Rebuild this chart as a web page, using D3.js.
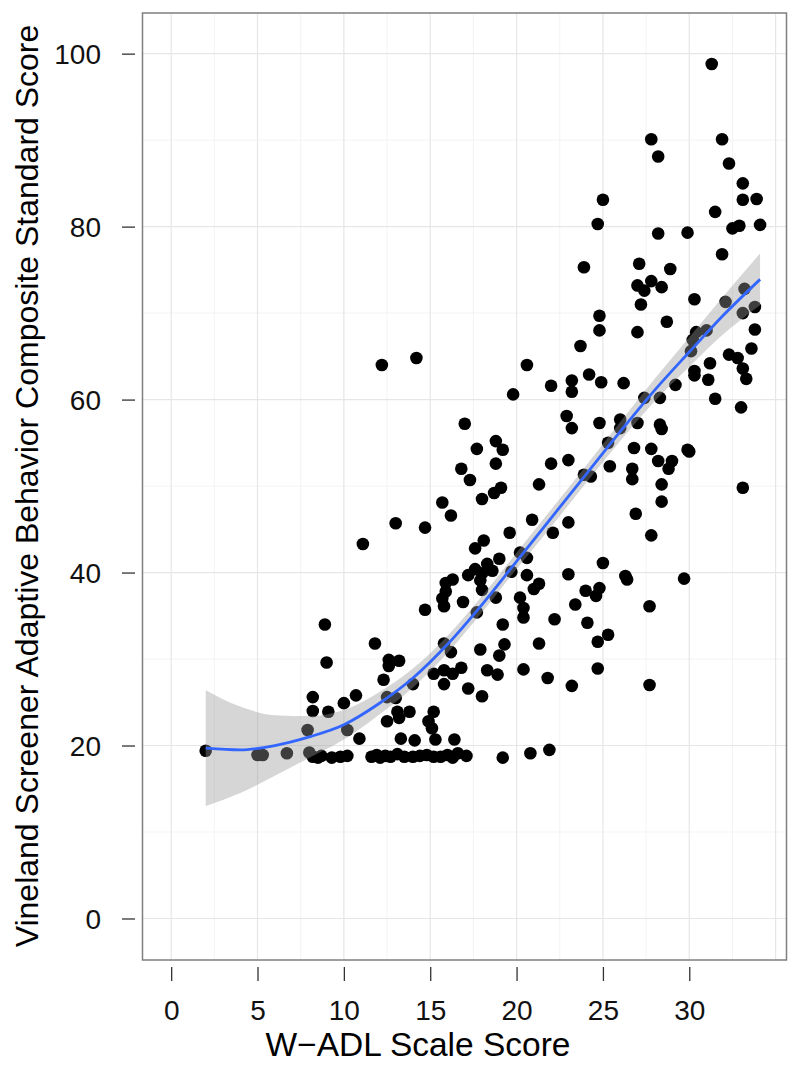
<!DOCTYPE html>
<html>
<head>
<meta charset="utf-8">
<script src="https://cdn.jsdelivr.net/npm/d3@7"></script>
<style>
  body { margin: 0; background: #fff; }
  text { font-family: "Liberation Sans", Arial, Helvetica, sans-serif; }
</style>
</head>
<body>
<script>
// W-ADL scale score (x) and Vineland composite (y)
var wadlScore = [
  // floor at ~19
  2.0,5.0,5.3,6.7,8.0,8.2,8.5,8.7,9.3,9.8,10.2,11.6,11.9,12.1,12.4,12.7,13.1,13.5,14.0,14.4,14.8,15.2,15.6,16.0,16.3,16.6,17.1,19.2,20.8,21.9,
  // low-middle
  15.7,18.0,16.2,13.0,14.7,11.1,18.1,17.6,18.3,19.0,17.6,17.2,18.0,18.6,16.3,15.9,17.9,18.0,15.9,15.7,15.8,16.9,18.8,14.7,17.7,8.9,11.8,15.8,16.2,17.9,19.0,9.0,12.6,13.2,12.6,15.2,15.8,16.3,16.8,15.8,12.3,14.0,17.2,18.0,18.3,18.9,12.5,13.0,10.7,10.0,8.2,8.2,9.1,13.1,13.8,15.2,13.2,12.5,14.9,15.1,15.3,7.9,10.2,10.9,13.3,14.1,16.4,
  // middle
  24.8,27.0,23.7,20.6,22.0,23.2,23.2,24.2,24.9,26.2,19.8,27.4,28.3,29.2,22.9,23.2,24.8,26.0,26.0,27.0,28.3,28.4,25.3,18.8,19.2,17.7,18.8,22.0,23.0,25.4,26.8,27.8,28.2,29.0,28.8,26.7,26.7,23.9,24.3,28.4,28.4,21.3,19.1,18.7,26.9,20.9,23.0,19.6,22.1,27.8,20.2,20.6,19.7,20.6,25.0,23.0,26.3,26.4,21.3,21.0,24.8,24.0,24.6,20.2,20.4,20.4,23.4,27.7,22.2,24.1,19.2,19.3,21.3,25.3,24.7,20.4,21.8,23.2,24.7,27.7,
  12.2,14.2,17.0,16.8,17.3,
  // upper right
  31.3,27.8,28.2,31.9,32.3,33.1,33.1,33.9,25.0,24.7,31.5,32.5,32.9,34.1,28.2,29.9,23.9,31.9,27.1,28.9,27.0,27.4,27.8,28.4,27.2,30.3,33.2,32.1,33.8,33.1,24.8,28.7,30.4,31.0,33.8,30.2,30.1,33.6,32.3,32.8,33.1,33.3,31.2,30.3,30.3,31.1,
  31.5,33.0,29.9,30.0,33.1,29.7
];
var vinelandScore = [
  19.4,18.9,18.9,19.1,19.2,18.7,18.6,18.8,18.6,18.7,18.8,18.7,18.9,18.6,18.8,18.7,19.0,18.7,18.7,18.8,18.9,18.7,18.7,18.9,18.6,19.1,18.8,18.6,19.1,19.5,
  48.1,48.5,46.6,45.7,45.2,43.3,43.7,42.8,41.0,41.6,40.4,39.7,39.9,40.2,39.2,38.8,39.1,38.0,37.8,37.0,36.1,36.6,37.1,35.7,35.4,34.0,31.8,31.8,30.8,31.1,30.4,29.6,29.9,29.8,29.2,28.3,28.7,28.3,29.0,27.1,27.6,27.1,26.6,25.7,28.7,28.2,25.6,25.5,25.8,24.9,25.6,24.0,23.9,23.9,23.9,23.9,23.2,22.8,22.8,22.0,20.7,21.8,21.8,20.8,20.8,20.6,20.7,
  68.0,67.8,66.2,64.0,61.6,62.2,60.9,62.9,62.0,61.9,60.6,60.2,60.2,61.7,58.1,56.7,57.3,57.7,56.7,57.3,57.1,56.6,55.0,55.2,54.2,54.3,52.6,52.6,53.0,52.3,54.4,54.3,52.9,52.9,52.0,52.0,50.8,51.3,51.1,50.2,48.2,50.2,49.8,49.2,46.8,46.1,45.8,44.6,44.6,44.3,42.3,41.7,40.1,39.7,41.1,39.8,39.6,39.2,38.7,38.1,38.2,37.9,37.3,37.1,35.9,34.8,36.3,36.1,34.6,34.2,34.0,31.7,31.8,32.8,32.0,28.8,27.8,26.9,28.9,27.0,
  64.0,64.8,57.2,52.0,50.7,
  98.8,90.1,88.1,90.1,87.3,85.0,83.1,83.2,83.1,80.3,81.7,79.8,80.1,80.2,79.2,79.3,75.3,76.8,75.7,75.1,73.2,72.6,73.7,73.0,71.0,71.6,72.8,71.3,70.7,70.0,69.7,69.0,67.8,68.0,68.1,66.9,65.6,65.9,65.2,64.8,63.6,62.4,64.2,63.3,62.8,62.3,
  60.1,59.1,54.2,54.0,49.8,39.3
];

// loess fit and its band
var fitX     = [2, 4, 6, 8, 10, 12, 14, 16, 18, 20, 22, 24, 26, 28, 30, 32, 34.1];
var fitY     = [19.7, 19.5, 20.0, 21.0, 22.4, 24.8, 27.8, 31.7, 36.3, 41.3, 46.3, 51.3, 56.3, 61.1, 65.5, 69.8, 73.9];
var fitLower = [13.0, 14.5, 16.5, 18.6, 20.7, 23.5, 26.7, 30.7, 35.4, 40.4, 45.3, 50.3, 55.2, 59.8, 63.8, 67.6, 70.9];
var fitUpper = [26.4, 24.5, 23.5, 23.4, 24.1, 26.1, 28.9, 32.7, 37.3, 42.3, 47.3, 52.3, 57.4, 62.4, 67.2, 72.0, 76.9];

var xTicks = [0, 5, 10, 15, 20, 25, 30];
var yTicks = [0, 20, 40, 60, 80, 100];
var xMinor = [2.5, 7.5, 12.5, 17.5, 22.5, 27.5, 32.5];
var yMinor = [10, 30, 50, 70, 90];

var width = 800, height = 1065;
var panel = {left: 142.5, top: 13, right: 786.5, bottom: 960};

var svg = d3.select("body").append("svg")
    .attr("width", width)
    .attr("height", height);

var x = d3.scaleLinear().domain([-1.66, 35.63]).range([panel.left, panel.right]);
var y = d3.scaleLinear().domain([-4.8, 104.7]).range([panel.bottom, panel.top]);

// grid
var grid = svg.append("g");
grid.selectAll(".xmin").data(xMinor).enter().append("line")
    .attr("x1", d => x(d)).attr("x2", d => x(d))
    .attr("y1", panel.top).attr("y2", panel.bottom)
    .attr("stroke", "#f3f3f3").attr("stroke-width", 1);
grid.selectAll(".ymin").data(yMinor).enter().append("line")
    .attr("x1", panel.left).attr("x2", panel.right)
    .attr("y1", d => y(d)).attr("y2", d => y(d))
    .attr("stroke", "#f3f3f3").attr("stroke-width", 1);
grid.selectAll(".xmaj").data(xTicks.concat([35])).enter().append("line")
    .attr("x1", d => x(d)).attr("x2", d => x(d))
    .attr("y1", panel.top).attr("y2", panel.bottom)
    .attr("stroke", "#e6e6e6").attr("stroke-width", 1.2);
grid.selectAll(".ymaj").data(yTicks).enter().append("line")
    .attr("x1", panel.left).attr("x2", panel.right)
    .attr("y1", d => y(d)).attr("y2", d => y(d))
    .attr("stroke", "#e6e6e6").attr("stroke-width", 1.2);

// points
var pts = d3.range(wadlScore.length).map(i => [wadlScore[i], vinelandScore[i]]);
svg.append("g").selectAll("circle")
    .data(pts)
    .enter().append("circle")
    .attr("cx", d => x(d[0]))
    .attr("cy", d => y(d[1]))
    .attr("r", 6.3)
    .attr("fill", "#000");

// smooth band + line
var fit = d3.range(fitX.length).map(i => ({x: fitX[i], y: fitY[i], lo: fitLower[i], hi: fitUpper[i]}));
svg.append("path")
    .datum(fit)
    .attr("d", d3.area().curve(d3.curveMonotoneX)
        .x(d => x(d.x)).y0(d => y(d.lo)).y1(d => y(d.hi)))
    .attr("fill", "#999999")
    .attr("fill-opacity", 0.4);
svg.append("path")
    .datum(fit)
    .attr("d", d3.line().curve(d3.curveMonotoneX).x(d => x(d.x)).y(d => y(d.y)))
    .attr("fill", "none")
    .attr("stroke", "#3366FF")
    .attr("stroke-width", 2.8);

// panel border
svg.append("rect")
    .attr("x", panel.left).attr("y", panel.top)
    .attr("width", panel.right - panel.left)
    .attr("height", panel.bottom - panel.top)
    .attr("fill", "none")
    .attr("stroke", "#7f7f7f")
    .attr("stroke-width", 1.5);

// axes (ticks sit a little away from the panel)
var xAxis = svg.append("g")
    .attr("transform", "translate(0,967)")
    .call(d3.axisBottom(x).tickValues(xTicks).tickSize(14).tickFormat(d3.format("d")));
xAxis.select(".domain").remove();
xAxis.selectAll("line").attr("stroke", "#333").attr("stroke-width", 1.3);
xAxis.selectAll("text")
    .attr("y", 53).attr("dy", 0)
    .attr("font-size", 28).attr("fill", "#111");

var yAxis = svg.append("g")
    .attr("transform", "translate(135,0)")
    .call(d3.axisLeft(y).tickValues(yTicks).tickSize(13).tickPadding(21));
yAxis.select(".domain").remove();
yAxis.selectAll("line").attr("stroke", "#333").attr("stroke-width", 1.3);
yAxis.selectAll("text")
    .attr("dy", "0.35em")
    .attr("font-size", 28).attr("fill", "#111");
xAxis.attr("font-family", null);
yAxis.attr("font-family", null);

// titles
svg.append("text")
    .attr("x", 418).attr("y", 1056)
    .attr("text-anchor", "middle")
    .attr("font-size", 33.5)
    .text("W\u2212ADL Scale Score");
svg.append("text")
    .attr("transform", "translate(38,486) rotate(-90)")
    .attr("text-anchor", "middle")
    .attr("font-size", 32)
    .text("Vineland Screener Adaptive Behavior Composite Standard Score");
</script>
</body>
</html>
